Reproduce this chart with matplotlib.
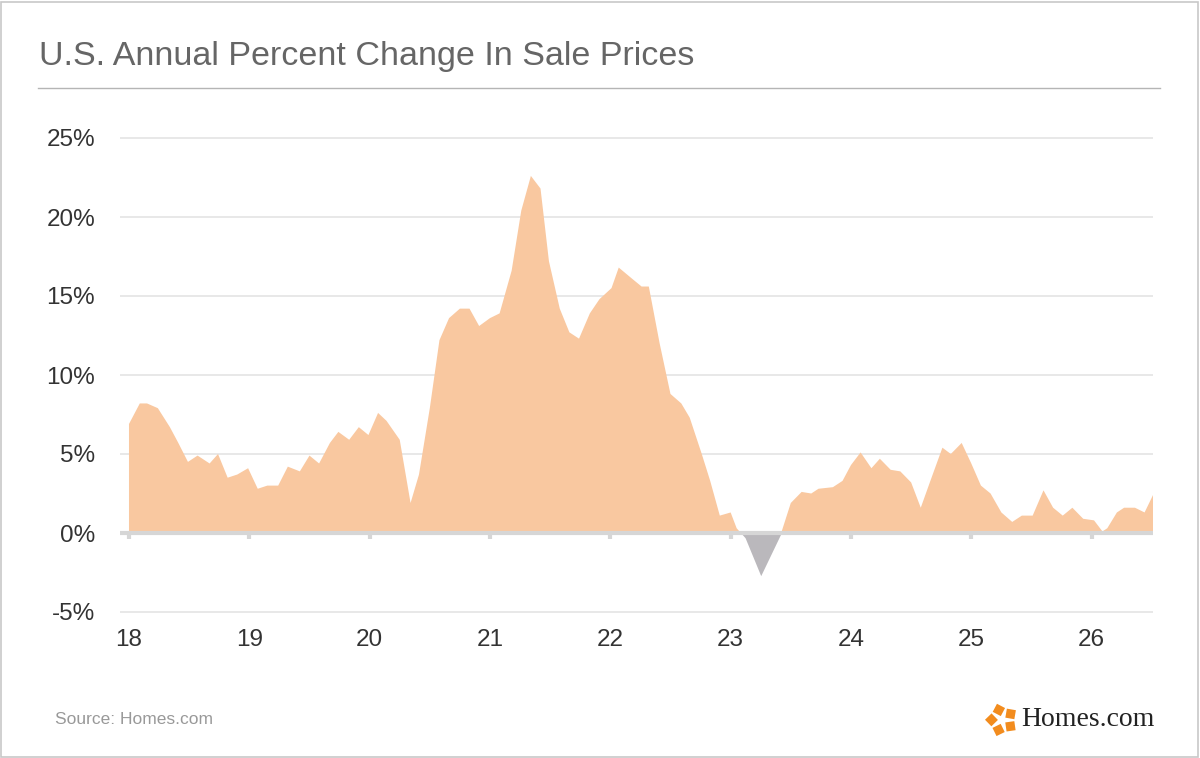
import numpy as np
import matplotlib
matplotlib.use('Agg')
import matplotlib.pyplot as plt
from matplotlib.patches import Rectangle, RegularPolygon

# years since 2000 and annual % change
years = [18.00, 18.09, 18.15, 18.24, 18.34, 18.41, 18.49, 18.57, 18.67, 18.74,
         18.82, 18.90, 18.99, 19.07, 19.15, 19.24, 19.32, 19.42, 19.50, 19.58,
         19.67, 19.74, 19.83, 19.91, 19.99, 20.07, 20.14, 20.25, 20.34, 20.41,
         20.50, 20.58, 20.66, 20.75, 20.83, 20.91, 21.00, 21.08, 21.18, 21.26,
         21.34, 21.42, 21.49, 21.58, 21.66, 21.74, 21.83, 21.91, 22.01, 22.07,
         22.18, 22.26, 22.32, 22.41, 22.50, 22.59, 22.66, 22.76, 22.83, 22.91,
         23.00, 23.05, 23.12, 23.25, 23.42, 23.50, 23.59, 23.67, 23.73, 23.85,
         23.93, 24.00, 24.08, 24.17, 24.24, 24.33, 24.41, 24.50, 24.58, 24.66,
         24.76, 24.83, 24.92, 25.00, 25.08, 25.16, 25.25, 25.34, 25.42, 25.51,
         25.60, 25.68, 25.76, 25.84, 25.93, 26.02, 26.09, 26.13, 26.21, 26.27,
         26.36, 26.44, 26.51]
pct = [6.9, 8.2, 8.2, 7.9, 6.7, 5.7, 4.5, 4.9, 4.4, 5.0,
       3.5, 3.7, 4.1, 2.8, 3.0, 3.0, 4.2, 3.9, 4.9, 4.4,
       5.7, 6.4, 5.9, 6.7, 6.2, 7.6, 7.1, 5.9, 1.9, 3.7,
       7.9, 12.2, 13.6, 14.2, 14.2, 13.1, 13.6, 13.9, 16.6, 20.4,
       22.6, 21.8, 17.2, 14.2, 12.7, 12.3, 13.9, 14.8, 15.5, 16.8,
       16.1, 15.6, 15.6, 12.0, 8.8, 8.2, 7.3, 5.0, 3.3, 1.1,
       1.3, 0.3, -0.3, -2.7, 0.0, 1.9, 2.6, 2.5, 2.8, 2.9,
       3.3, 4.3, 5.1, 4.1, 4.7, 4.0, 3.9, 3.2, 1.6, 3.3,
       5.4, 5.0, 5.7, 4.4, 3.0, 2.5, 1.3, 0.7, 1.1, 1.1,
       2.7, 1.6, 1.1, 1.6, 0.9, 0.8, 0.1, 0.3, 1.3, 1.6,
       1.6, 1.3, 2.4]
yticks = [-5, 0, 5, 10, 15, 20, 25]
xticks = [18, 19, 20, 21, 22, 23, 24, 25, 26]

x = np.array(years)
y = np.array(pct)

fig = plt.figure(figsize=(12, 7.58), dpi=100)
fig.patch.set_facecolor('white')
W, H = 1200, 758

# outer frame and title rule
fig.add_artist(Rectangle((1 / W, 1 / H), 1 - 3 / W, 1 - 3 / H, transform=fig.transFigure,
                         fill=False, edgecolor='#c8c8c8', linewidth=1.2))
fig.add_artist(plt.Line2D([38 / W, 1160 / W], [1 - 88 / H, 1 - 88 / H], color='#b5b5b5', linewidth=1))
fig.text(39 / W, 1 - 56 / H, 'U.S. Annual Percent Change In Sale Prices', fontsize=24.5,
         color='#666666', va='center', ha='left', family='Liberation Sans')

# axes: x=120..1153 px, y data -5 -> 612 px, 25 -> 138 px
ax = fig.add_axes([120 / W, 1 - 615 / H, (1153 - 120) / W, (615 - 128) / H])
px_per = (612 - 138) / 30
ax.set_ylim(-5 - 3 / px_per, 25 + 10 / px_per)
ax.set_xlim(18 - 9 / 120.5, 26.51)

for t in yticks[:1] + yticks[2:]:
    ax.axhline(t, color='#e4e4e4', linewidth=1.2, zorder=0)

ax.fill_between(x, y, 0, where=y >= 0, interpolate=True, color='#f9c8a0', linewidth=0, zorder=2)
ax.fill_between(x, y, 0, where=y <= 0, interpolate=True, color='#bab8bc', linewidth=0, zorder=2)
ax.axhline(0, color='#d6d6d6', linewidth=3, zorder=3)
for t in xticks:
    ax.plot([t, t], [0, -0.4], color='#d6d6d6', linewidth=3, zorder=3, solid_capstyle='butt')

for s in ax.spines.values():
    s.set_visible(False)
ax.set_yticks(yticks)
ax.set_yticklabels([f'{t}%' for t in yticks])
ax.set_xticks(xticks)
ax.set_xticklabels([str(t) for t in xticks])
ax.tick_params(length=0, labelsize=17.5, labelcolor='#333333', pad=10)
ax.tick_params(axis='y', pad=18)
for lab in ax.get_xticklabels() + ax.get_yticklabels():
    lab.set_family('Liberation Sans')

fig.text(55 / W, 1 - 720 / H, 'Source: Homes.com', fontsize=12.5, color='#999999',
         va='center', family='Liberation Sans')

# logo: five orange blobs in a ring
lax = fig.add_axes([985 / W, 1 - 737 / H, 34 / W, 34 / H])
lax.set_xlim(-1, 1)
lax.set_ylim(-1, 1)
lax.set_aspect('equal')
lax.axis('off')
for k in range(5):
    a = np.pi / 2 + k * 2 * np.pi / 5 + 0.3
    lax.add_patch(RegularPolygon((0.62 * np.cos(a), 0.62 * np.sin(a)), numVertices=4,
                                 radius=0.38, orientation=a, facecolor='#f28c1e', edgecolor='none'))
fig.text(1021 / W, 1 - 720 / H, 'Homes.com', fontsize=20, color='#222222', va='center',
         family='Liberation Serif')

fig.savefig('out.png', dpi=100, facecolor='white')
